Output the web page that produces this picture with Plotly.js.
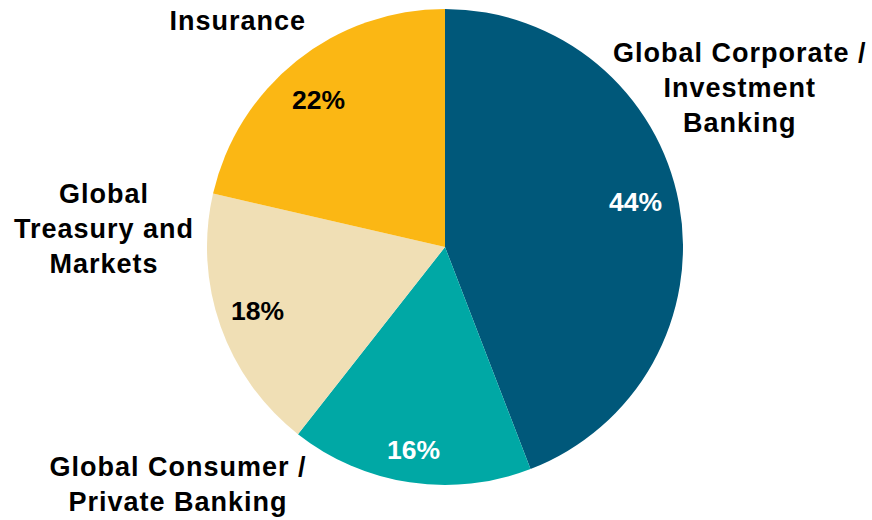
<!DOCTYPE html>
<html>
<head>
<meta charset="utf-8">
<script src="https://cdn.plot.ly/plotly-3.0.1.min.js"></script>
<style>html,body{margin:0;padding:0;background:#fff;}#chart{width:872px;height:520px;}</style>
</head>
<body>
<div id="chart"></div>
<script>
var categories = ["Global Corporate /<br>Investment<br>Banking", "Global Consumer /<br>Private Banking", "Global<br>Treasury and<br>Markets", "Insurance"];
var values = [44.15, 16.45, 18.0, 21.4];
var pctLabels = ["44%", "16%", "18%", "22%"];
var sliceColors = ["#00587A", "#00A8A5", "#F0DFB5", "#FBB714"];
var pctColors = ["#ffffff", "#ffffff", "#000000", "#000000"];
var pctLabelPos = [[635, 202], [413, 450], [257, 311], [318, 100]];
var outsideLabelPos = [[740, 88], [178, 484], [104, 229], [238, 21]];

var W = 872, H = 520;
var cx = 445, cy = 247, R = 238;
var FONT = "Liberation Sans, Arial, sans-serif";

var trace = {
  type: "pie",
  values: values,
  labels: categories,
  marker: {colors: sliceColors, line: {width: 0}},
  sort: false,
  direction: "clockwise",
  rotation: 0,
  textinfo: "none",
  hoverinfo: "label+percent",
  showlegend: false,
  domain: {x: [(cx - R) / W, (cx + R) / W], y: [(H - cy - R) / H, (H - cy + R) / H]}
};

var annotations = [];
for (var i = 0; i < values.length; i++) {
  annotations.push({
    xref: "paper", yref: "paper", x: pctLabelPos[i][0] / W, y: (H - pctLabelPos[i][1]) / H,
    text: "<b>" + pctLabels[i] + "</b>",
    showarrow: false, xanchor: "center", yanchor: "middle",
    font: {family: FONT, size: 26.5, color: pctColors[i]}
  });
}
for (var j = 0; j < values.length; j++) {
  annotations.push({
    xref: "paper", yref: "paper", x: outsideLabelPos[j][0] / W, y: (H - outsideLabelPos[j][1]) / H,
    text: "<b>" + categories[j] + "</b>",
    showarrow: false, xanchor: "center", yanchor: "middle", align: "center",
    font: {family: FONT, size: 27, color: "#000000"}
  });
}

var layout = {
  width: W, height: H,
  margin: {l: 0, r: 0, t: 0, b: 0},
  paper_bgcolor: "#ffffff",
  plot_bgcolor: "#ffffff",
  annotations: annotations
};

var style = document.createElement("style");
style.textContent = '.annotation[data-index="4"] text, .annotation[data-index="5"] text, .annotation[data-index="6"] text, .annotation[data-index="7"] text { letter-spacing: 1px; }';
document.head.appendChild(style);

Plotly.newPlot("chart", [trace], layout, {displayModeBar: false, staticPlot: true});
</script>
</body>
</html>
